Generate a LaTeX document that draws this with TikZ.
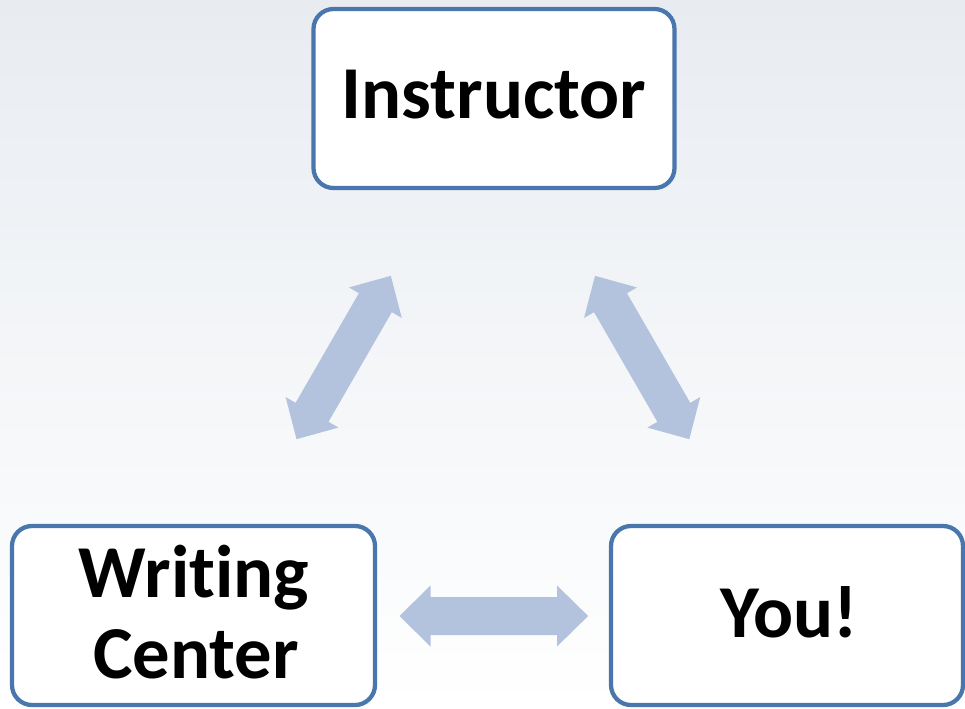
\documentclass[tikz,border=0pt]{standalone}
\usepackage{fontspec}
\setmainfont[Ligatures={NoCommon,NoContextual}]{Carlito}
\usetikzlibrary{calc}
\definecolor{bgtop}{RGB}{232,236,241}
\definecolor{boxline}{RGB}{74,118,174}
\definecolor{arrowfill}{RGB}{179,195,222}
\tikzset{
  box/.style={draw=boxline, fill=white, line width=3.2pt, rounded corners=15pt, rectangle, inner sep=0pt},
  txt/.style={font=\fontsize{56}{61}\selectfont\bfseries, inner sep=0pt, text=black},
  dbl/.pic={\fill[arrowfill] (-94.3,0) -- (-63.3,-30.5) -- (-63.3,-19) -- (63.3,-19) -- (63.3,-30.5) -- (94.3,0) -- (63.3,30.5) -- (63.3,19) -- (-63.3,19) -- (-63.3,30.5) -- cycle;}
}
\begin{document}
\begin{tikzpicture}[x=0.75pt,y=-0.75pt]
\useasboundingbox (0,0) rectangle (965,708);
\shade[top color=bgtop, bottom color=white] (0,0) rectangle (965,708);
% boxes
\node[box, minimum width=361*0.75pt, minimum height=179*0.75pt] (inst) at (494,98.5) {};
\node[box, minimum width=363*0.75pt, minimum height=179*0.75pt] (wc) at (193.5,615.5) {};
\node[box, minimum width=352*0.75pt, minimum height=179*0.75pt] (you) at (787,615.5) {};
% texts
\node[txt, anchor=base] (instT) at (494,118) {Instructor};
\node[txt, anchor=base] (wcT1) at (194,597) {Wri\kern0pt ting};
\node[txt, anchor=base] (wcT2) at (196,678) {Center};
\node[txt, anchor=base] (youT) at (789,637) {You!};
% arrow end points
\coordinate (l1) at (296.7,439);
\coordinate (l2) at (390.7,276);
\coordinate (r1) at (595,276);
\coordinate (r2) at (689.3,439);
\coordinate (h1) at (399.3,616);
\coordinate (h2) at (588.3,616);
\pic[rotate=60] at ($(l1)!0.5!(l2)$) {dbl};
\pic[rotate=120] at ($(r1)!0.5!(r2)$) {dbl};
\pic at ($(h1)!0.5!(h2)$) {dbl};
\end{tikzpicture}
\end{document}
